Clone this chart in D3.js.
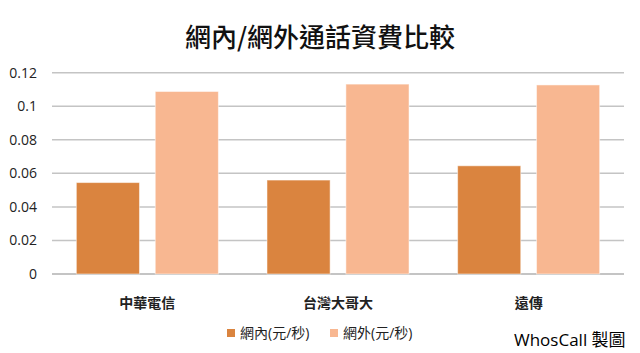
<html>
<head><meta charset="utf-8"></head>
<body style="margin:0;background:white">
<svg id="svg" width="640" height="353"></svg>
<script src="https://cdn.jsdelivr.net/npm/d3@7"></script>
<script>

var categories = ["中華電信", "台灣大哥大", "遠傳"];
var seriesNames = ["網內(元/秒)", "網外(元/秒)"];
var onNet = [0.0545, 0.056, 0.0645];
var offNet = [0.1088, 0.1132, 0.1127];
var tickValues = [0, 0.02, 0.04, 0.06, 0.08, 0.1, 0.12];
var tickLabels = ["0", "0.02", "0.04", "0.06", "0.08", "0.1", "0.12"];
var colors = ["#da843f", "#f8b791"];

var svg = d3.select("#svg");
var plotL = 52, plotR = 624, plotT = 72.7, plotB = 274;
var font = "'Open Sans', 'Noto Sans CJK TC', sans-serif";

var x0 = d3.scaleBand().domain(categories).range([plotL, plotR])
  .paddingInner(0.255).paddingOuter(0.1277);
var x1 = d3.scaleBand().domain([0, 1]).range([0, x0.bandwidth()]).paddingInner(0.2);
var y = d3.scaleLinear().domain([0, 0.12]).range([plotB, plotT]);

// title
svg.append("text")
  .attr("x", 320).attr("y", 47)
  .attr("text-anchor", "middle")
  .style("font-family", "'Noto Sans CJK TC', sans-serif")
  .style("font-weight", 500)
  .style("font-size", "26px")
  .style("fill", "#111")
  .text("網內/網外通話資費比較");

// grid
svg.append("g")
  .selectAll("line").data(tickValues)
  .join("line")
    .attr("x1", plotL).attr("x2", plotR)
    .attr("y1", d => y(d)).attr("y2", d => y(d))
    .style("stroke", d => d == 0 ? "#b0b0b0" : "#c4c4c4")
    .style("stroke-width", 1.5);

// y labels
svg.append("g")
  .selectAll("text").data(tickValues)
  .join("text")
    .attr("x", 37).attr("y", d => y(d)).attr("dy", "0.35em")
    .attr("text-anchor", "end")
    .style("font-family", font)
    .style("font-size", "14px")
    .style("fill", "#222")
    .text((d, i) => tickLabels[i]);

// bars
var rows = categories.map((c, i) => ({c: c, v: [onNet[i], offNet[i]]}));
svg.append("g")
  .selectAll("g").data(rows)
  .join("g")
    .attr("transform", d => "translate(" + x0(d.c) + ",0)")
  .selectAll("rect").data(d => d.v.map((v, k) => ({k: k, v: v})))
  .join("rect")
    .attr("x", d => x1(d.k))
    .attr("width", x1.bandwidth())
    .attr("y", d => y(d.v))
    .attr("height", d => y(0) - y(d.v))
    .style("fill", d => colors[d.k])
    .style("stroke", "#fff")
    .style("stroke-opacity", 0.5)
    .style("stroke-width", 1);

// category labels
svg.append("g")
  .selectAll("text").data(categories)
  .join("text")
    .attr("x", d => x0(d) + x0.bandwidth() / 2)
    .attr("y", 308)
    .attr("text-anchor", "middle")
    .style("font-family", "'Noto Sans CJK TC', sans-serif")
    .style("font-weight", 700)
    .style("font-size", "14px")
    .style("fill", "#222")
    .text(d => d);

// legend
var legX = [227, 330];
var leg = svg.append("g")
  .selectAll("g").data(seriesNames)
  .join("g")
    .attr("transform", (d, i) => "translate(" + legX[i] + ",0)");
leg.append("rect")
  .attr("x", 0).attr("y", 329).attr("width", 8).attr("height", 8)
  .style("fill", (d, i) => colors[i]);
leg.append("text")
  .attr("x", 13).attr("y", 338)
  .style("font-family", font)
  .style("font-size", "14px")
  .style("fill", "#222")
  .text(d => d);

// credit
svg.append("text")
  .attr("x", 514).attr("y", 346)
  .style("font-family", font)
  .style("font-size", "17px")
  .style("fill", "#000")
  .text("WhosCall 製圖");

</script>
</body>
</html>
